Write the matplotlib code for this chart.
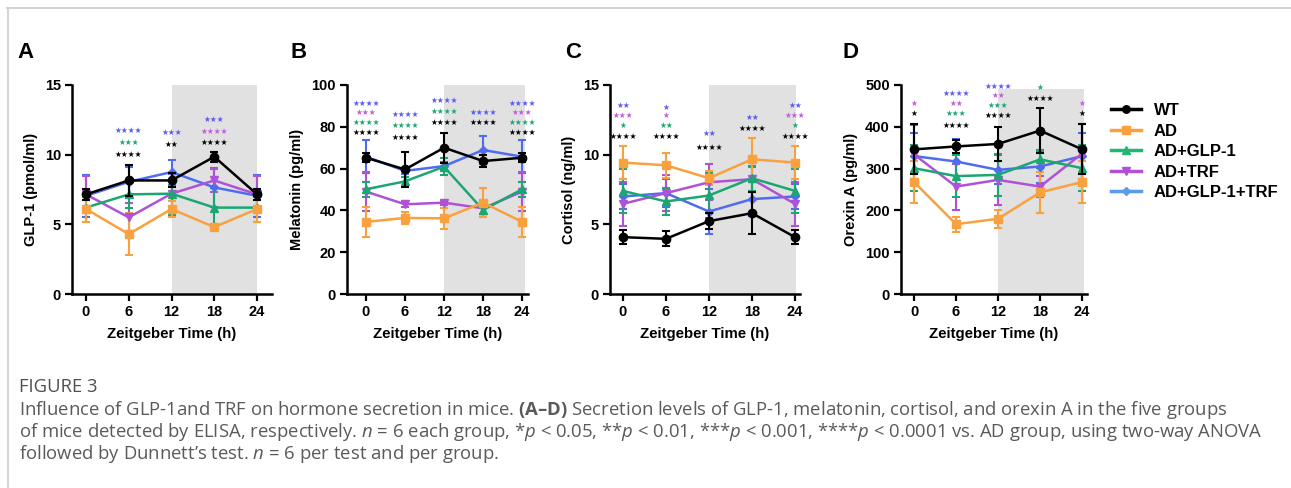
import matplotlib
matplotlib.use("Agg")
import matplotlib.pyplot as plt
from matplotlib.lines import Line2D
from matplotlib.patches import Rectangle

plt.rcParams['font.family'] = ['Liberation Sans', 'DejaVu Sans']
plt.rcParams['mathtext.fontset'] = 'custom'
plt.rcParams['mathtext.rm'] = 'Open Sans'
plt.rcParams['mathtext.it'] = 'Open Sans:italic'
plt.rcParams['mathtext.bf'] = 'Open Sans:bold'

# ---------------- data ----------------
zt = [0, 6, 12, 18, 24]
groups = ['WT', 'AD', 'AD+GLP-1', 'AD+TRF', 'AD+GLP-1+TRF']

# Panel A: GLP-1 (pmol/ml)
glp_wt = [7.15, 8.15, 8.15, 9.85, 7.15]
glp_ad = [6.1, 4.3, 6.1, 4.8, 6.1]
glp_glp = [6.2, 7.15, 7.2, 6.2, 6.2]
glp_trf = [7.15, 5.5, 7.2, 8.15, 7.15]
glp_both = [7.05, 8.05, 8.75, 7.65, 7.05]
glp_wt_err = [0.4, 1.1, 0.5, 0.35, 0.4]
glp_ad_err = [0.95, 1.5, 0.55, 0.2, 0.95]
glp_glp_err = [1.0, 1.0, 1.5, 1.4, 1.0]
glp_trf_err = [1.35, 1.0, 1.4, 0.85, 1.35]
glp_both_err = [1.5, 1.1, 0.9, 1.4, 1.5]

# Panel B: Melatonin (pg/ml)
mel_wt = [65.2, 59.6, 70.0, 63.6, 65.2]
mel_ad = [34.5, 36.4, 36.2, 43.7, 34.5]
mel_glp = [50.1, 53.9, 60.9, 40.2, 50.1]
mel_trf = [49.0, 42.9, 43.7, 41.0, 49.0]
mel_both = [65.7, 58.9, 61.2, 68.9, 65.7]
mel_wt_err = [2.2, 8.5, 7.2, 3.0, 2.2]
mel_ad_err = [7.0, 3.0, 5.0, 7.0, 7.0]
mel_glp_err = [3.5, 2.0, 4.0, 2.0, 3.5]
mel_trf_err = [9.5, 1.5, 1.0, 4.0, 9.5]
mel_both_err = [8.0, 1.5, 2.0, 6.7, 8.0]

# Panel C: Cortisol (ng/ml)
cor_wt = [4.08, 3.96, 5.23, 5.8, 4.08]
cor_ad = [9.43, 9.24, 8.31, 9.67, 9.43]
cor_glp = [7.4, 6.64, 7.07, 8.31, 7.4]
cor_trf = [6.47, 7.24, 8.02, 8.24, 6.47]
cor_both = [7.0, 7.24, 5.92, 6.81, 7.0]
cor_wt_err = [0.5, 0.55, 0.6, 1.5, 0.5]
cor_ad_err = [1.2, 0.9, 0.5, 1.5, 1.2]
cor_glp_err = [1.6, 1.0, 1.6, 0.9, 1.6]
cor_trf_err = [1.6, 1.3, 1.3, 0.9, 1.6]
cor_both_err = [0.9, 1.0, 1.6, 1.2, 0.9]

# Panel D: Orexin A (pg/ml)
orx_wt = [346, 353, 359, 391, 346]
orx_ad = [268, 167, 180, 243, 268]
orx_glp = [301, 282, 285, 322, 301]
orx_trf = [334, 257, 273, 257, 336]
orx_both = [330, 317, 297, 305, 330]
orx_wt_err = [60, 15, 40, 53, 60]
orx_ad_err = [50, 18, 22, 50, 50]
orx_glp_err = [55, 50, 50, 20, 55]
orx_trf_err = [70, 55, 60, 25, 70]
orx_both_err = [55, 55, 35, 40, 55]

# significance stars: (ZT, y, text, group index)
stars_a = [(6, 11.75, '****', 4), (6, 10.9, '***', 2), (6, 10.0, '****', 0),
           (12, 11.6, '***', 4), (12, 10.7, '**', 0),
           (18, 12.5, '***', 4), (18, 11.7, '****', 3), (18, 10.9, '****', 0)]
stars_b = [(0, 91.2, '****', 4), (0, 86.9, '***', 3), (0, 82.0, '****', 2), (0, 77.2, '****', 0),
           (6, 86.0, '****', 4), (6, 80.5, '****', 2), (6, 75.0, '****', 0),
           (12, 92.5, '****', 4), (12, 87.2, '****', 2), (12, 82.1, '****', 0),
           (18, 87.0, '****', 4), (18, 82.1, '****', 0),
           (24, 91.2, '****', 4), (24, 86.9, '***', 3), (24, 82.0, '****', 2), (24, 77.2, '****', 0)]
stars_c = [(0, 13.55, '**', 4), (0, 12.78, '***', 3), (0, 12.1, '*', 2), (0, 11.34, '****', 0),
           (6, 13.4, '*', 4), (6, 12.78, '*', 3), (6, 12.1, '**', 2), (6, 11.3, '****', 0),
           (12, 11.5, '**', 4), (12, 10.5, '****', 0),
           (18, 12.68, '**', 4), (18, 11.9, '****', 0),
           (24, 13.55, '**', 4), (24, 12.78, '***', 3), (24, 12.1, '*', 2), (24, 11.34, '****', 0)]
stars_d = [(0, 456, '*', 3), (0, 431, '*', 0),
           (6, 480, '****', 4), (6, 456, '**', 3), (6, 431, '***', 2), (6, 403, '****', 0),
           (12, 496, '****', 4), (12, 476, '**', 3), (12, 452, '***', 2), (12, 426, '****', 0),
           (18, 494, '*', 2), (18, 468, '****', 0),
           (24, 456, '*', 3), (24, 431, '*', 0)]

# ---------------- style ----------------
W, H = 1291, 488
line_colors = ['#000000', '#F9A03F', '#1BA672', '#B052D6', '#4F6CF0']
legend_colors = ['#000000', '#F9A03F', '#22B573', '#B052D6', '#5A9BF0']
star_colors = ['#000000', '#F9A03F', '#1BA672', '#C05CE0', '#5A5AF5']
markers = ['o', 's', '^', 'v', 'D']
msizes = [6, 6, 6, 6, 4.5]

fig = plt.figure(figsize=(W / 100, H / 100), dpi=100)


def px_axes(left, right, top, bottom):
    return fig.add_axes([left / W, 1 - bottom / H, (right - left) / W, (bottom - top) / H])


panels = [
    dict(box=(72, 272, 85, 294), xlim=(-1.96, 26.1), ylim=(0, 15), yticks=[0, 5, 10, 15],
         shade=(12, 24, 15), ylabel='GLP-1 (pmol/ml)', letter='A', lx=17,
         data=[glp_wt, glp_ad, glp_glp, glp_trf, glp_both],
         err=[glp_wt_err, glp_ad_err, glp_glp_err, glp_trf_err, glp_both_err], stars=stars_a),
    dict(box=(347, 528, 85, 294), xlim=(-2.92, 24.9), ylim=(0, 100), yticks=[0, 20, 40, 60, 80, 100],
         shade=(12, 24.45, 100), ylabel='Melatonin (pg/ml)', letter='B', lx=291,
         data=[mel_wt, mel_ad, mel_glp, mel_trf, mel_both],
         err=[mel_wt_err, mel_ad_err, mel_glp_err, mel_trf_err, mel_both_err], stars=stars_b),
    dict(box=(610, 800, 85, 294), xlim=(-1.81, 24.7), ylim=(0, 15), yticks=[0, 5, 10, 15],
         shade=(12, 24.2, 15), ylabel='Cortisol (ng/ml)', letter='C', lx=565,
         data=[cor_wt, cor_ad, cor_glp, cor_trf, cor_both],
         err=[cor_wt_err, cor_ad_err, cor_glp_err, cor_trf_err, cor_both_err], stars=stars_c),
    dict(box=(901, 1087, 85, 294), xlim=(-1.86, 24.7), ylim=(0, 500), yticks=[0, 100, 200, 300, 400, 500],
         shade=(12, 24.3, 490), ylabel='Orexin A (pg/ml)', letter='D', lx=842,
         data=[orx_wt, orx_ad, orx_glp, orx_trf, orx_both],
         err=[orx_wt_err, orx_ad_err, orx_glp_err, orx_trf_err, orx_both_err], stars=stars_d),
]

draw_order = [4, 3, 2, 1, 0]

for p in panels:
    ax = px_axes(*p['box'])
    ax.set_xlim(*p['xlim'])
    ax.set_ylim(*p['ylim'])
    x0, x1, ytop = p['shade']
    ax.add_patch(Rectangle((x0, 0), x1 - x0, ytop, facecolor='#E1E1E1', edgecolor='none', zorder=0))
    for gi in draw_order:
        ax.errorbar(zt, p['data'][gi], yerr=p['err'][gi], color=line_colors[gi],
                    marker=markers[gi], markersize=msizes[gi], linewidth=1.8,
                    elinewidth=1.5, capsize=3, capthick=1.5, zorder=4 if gi == 0 else 3)
    for (sx, sy, txt, gi) in p['stars']:
        ax.text(sx, sy, '\u2605' * len(txt), color=star_colors[gi], fontsize=5.5,
                family=['DejaVu Sans'], ha='center', va='center', zorder=5)
    for s in ['top', 'right']:
        ax.spines[s].set_visible(False)
    for s in ['left', 'bottom']:
        ax.spines[s].set_linewidth(1.8)
    ax.set_xticks(zt)
    ax.set_yticks(p['yticks'])
    ax.tick_params(axis='both', width=1.6, length=5, labelsize=10.5, pad=3)
    for lab in ax.get_xticklabels() + ax.get_yticklabels():
        lab.set_fontweight('bold')
    ax.set_xlabel('Zeitgeber Time (h)', fontsize=10.8, fontweight='bold', labelpad=6)
    ax.set_ylabel(p['ylabel'], fontsize=10.5, fontweight='bold', labelpad=5)
    fig.text(p['lx'] / W, 1 - 52 / H, p['letter'], fontsize=16, fontweight='bold',
             ha='left', va='center')

# legend
handles = [Line2D([0], [0], color=legend_colors[i], marker=markers[i], markersize=msizes[i] * 0.9,
                  linewidth=2.5) for i in range(5)]
leg = fig.legend(handles, groups, loc='upper left', bbox_to_anchor=(1103 / W, 1 - 95 / H),
                 frameon=False, prop={'weight': 'bold', 'size': 12}, handlelength=1.75,
                 handletextpad=0.8, labelspacing=0.33, borderpad=0)

# page frame
fig.add_artist(Line2D([7 / W, 1], [1 - 7.5 / H, 1 - 7.5 / H], color='#D4D4D4', linewidth=1.5))
fig.add_artist(Line2D([7.5 / W, 7.5 / W], [0, 1 - 7.5 / H], color='#D4D4D4', linewidth=1.5))

# caption
cap_color = '#5A5A5A'
fig.text(19 / W, 1 - 387 / H, 'FIGURE 3', fontsize=13.3, color='#505050', family='Open Sans',
         ha='left', va='center')
cap_lines = [
    r'Influence of GLP-1and TRF on hormone secretion in mice. $\mathbf{(A–D)}$ Secretion levels of GLP-1, melatonin, cortisol, and orexin A in the five groups',
    r'of mice detected by ELISA, respectively. $n$ = 6 each group, *$p$ < 0.05, **$p$ < 0.01, ***$p$ < 0.001, ****$p$ < 0.0001 vs. AD group, using two-way ANOVA',
    r"followed by Dunnett’s test. $n$ = 6 per test and per group.",
]
for i, t in enumerate(cap_lines):
    fig.text(19 / W, 1 - (410 + 22 * i) / H, t, fontsize=13.3, color=cap_color,
             family='Open Sans', ha='left', va='center')

fig.savefig('out.png', dpi=100, facecolor='white')
